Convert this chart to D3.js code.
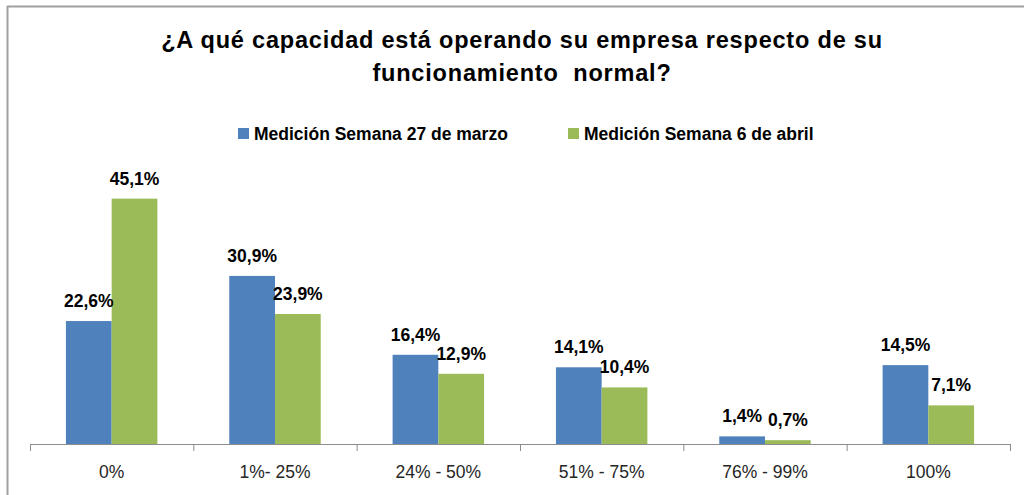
<!DOCTYPE html>
<html>
<head>
<meta charset="utf-8">
<script src="https://cdn.jsdelivr.net/npm/d3@7"></script>
<style>
  html, body { margin: 0; padding: 0; background: #fff; }
  svg { display: block; }
</style>
</head>
<body>
<svg id="chart" width="1024" height="495"></svg>
<script>
const titleLines = ["¿A qué capacidad está operando su empresa respecto de su", "funcionamiento  normal?"];
const categories = ["0%", "1%- 25%", "24% - 50%", "51% - 75%", "76% - 99%", "100%"];
const seriesNames = ["Medición Semana 27 de marzo", "Medición Semana 6 de abril"];
const serieMarzo = [22.6, 30.9, 16.4, 14.1, 1.4, 14.5];
const serieAbril = [45.1, 23.9, 12.9, 10.4, 0.7, 7.1];
const colors = ["#4F81BD", "#9BBB59"];

const svg = d3.select("#chart");
const font = "'Liberation Sans', Arial, sans-serif";

// frame
svg.append("line").attr("x1", 7).attr("x2", 1024).attr("y1", 6.5).attr("y2", 6.5)
  .attr("stroke", "#a0a0a0").attr("stroke-width", 2);
svg.append("line").attr("x1", 7.5).attr("x2", 7.5).attr("y1", 6).attr("y2", 495)
  .attr("stroke", "#a0a0a0").attr("stroke-width", 2);

// title
svg.append("text")
  .attr("text-anchor", "middle")
  .attr("font-family", font).attr("font-weight", "bold").attr("font-size", 23.5)
  .attr("letter-spacing", 0.8)
  .style("white-space", "pre")
  .attr("fill", "#000")
  .selectAll("tspan").data(titleLines).join("tspan")
  .attr("x", 522).attr("y", (d, i) => 48 + i * 33).text(d => d);

// legend
const legendX = [238, 568];
const lg = svg.append("g");
seriesNames.forEach((name, i) => {
  lg.append("rect").attr("x", legendX[i]).attr("y", 128).attr("width", 11).attr("height", 11)
    .attr("fill", colors[i]);
  lg.append("text").attr("x", legendX[i] + 16).attr("y", 140)
    .attr("font-family", font).attr("font-weight", "bold").attr("font-size", 17.5)
    .attr("fill", "#000").text(name);
});

// scales
const x0 = d3.scaleBand().domain(categories).range([30, 1010]).paddingInner(0.44).paddingOuter(0.22);
const x1 = d3.scaleBand().domain([0, 1]).range([0, x0.bandwidth()]);
const y = d3.scaleLinear().domain([0, 50]).range([444, 172]);

const data = categories.map((c, i) => ({ cat: c, vals: [serieMarzo[i], serieAbril[i]] }));

const groups = svg.append("g").selectAll("g").data(data).join("g")
  .attr("transform", d => `translate(${x0(d.cat)},0)`);

groups.selectAll("rect").data(d => d.vals.map((v, k) => ({ v, k }))).join("rect")
  .attr("x", d => x1(d.k)).attr("width", x1.bandwidth())
  .attr("y", d => y(d.v)).attr("height", d => y(0) - y(d.v))
  .attr("fill", d => colors[d.k]);

groups.selectAll("text").data(d => d.vals.map((v, k) => ({ v, k }))).join("text")
  .attr("x", d => x1(d.k) + x1.bandwidth() / 2)
  .attr("y", d => y(d.v) - 14)
  .attr("text-anchor", "middle")
  .attr("font-family", font).attr("font-weight", "bold").attr("font-size", 17.5)
  .attr("fill", "#000")
  .text(d => d.v.toFixed(1).replace(".", ",") + "%");

// x axis
const step = x0.step();
const xAxis = svg.append("g").attr("transform", `translate(0,${y(0)})`);
xAxis.append("line").attr("x1", 30).attr("x2", 1010).attr("y1", 0.5).attr("y2", 0.5)
  .attr("stroke", "#8c8c8c").attr("stroke-width", 1);
const boundaries = d3.range(categories.length + 1).map(i => 30 + i * step);
xAxis.selectAll("line.tick").data(boundaries).join("line").attr("class", "tick")
  .attr("x1", d => d + 0.5).attr("x2", d => d + 0.5).attr("y1", 0).attr("y2", 7)
  .attr("stroke", "#8c8c8c");
xAxis.selectAll("text").data(categories).join("text")
  .attr("x", d => x0(d) + x0.bandwidth() / 2).attr("y", 34)
  .attr("text-anchor", "middle")
  .attr("font-family", font).attr("font-size", 17.5).attr("fill", "#262626")
  .text(d => d);
</script>
</body>
</html>
